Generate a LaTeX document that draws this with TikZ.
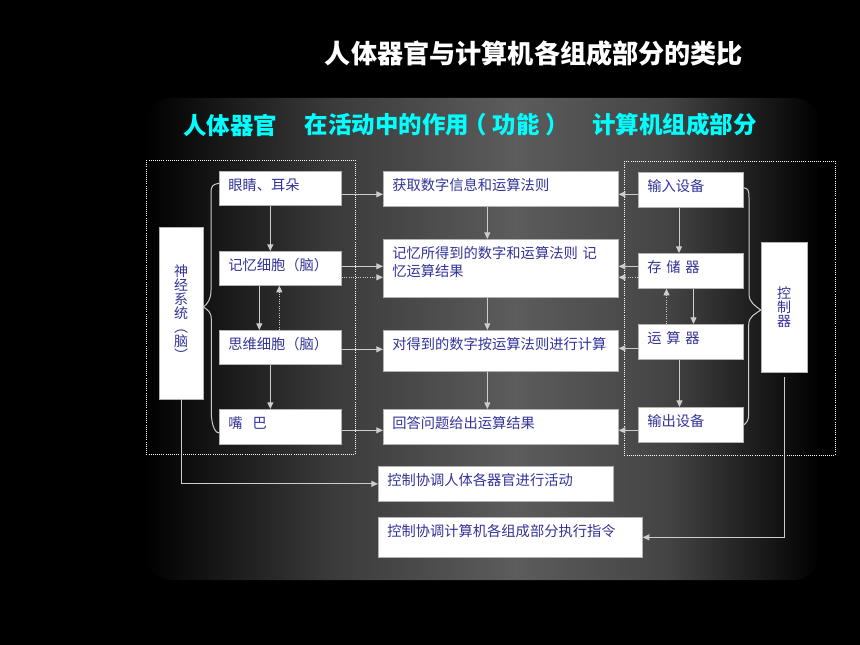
\documentclass[tikz,border=0pt]{standalone}
\usepackage{fontspec}
\setmainfont{Noto Sans CJK SC}
\usetikzlibrary{arrows.meta,calc}
\definecolor{boxblue}{RGB}{51,51,153}
\definecolor{headcyan}{RGB}{0,255,255}
\definecolor{bggray}{RGB}{92,92,92}
\definecolor{bgleft}{RGB}{58,58,58}
\definecolor{bgright}{RGB}{68,68,68}
\definecolor{linegray}{RGB}{205,205,205}

\begin{document}
\begin{tikzpicture}[x=0.75pt,y=-0.75pt,
        box/.style={fill=white,draw=gray!60,line width=0.5pt,anchor=north west,inner xsep=6.75pt,inner ysep=0pt,
            text height=14.25pt,text depth=12pt,align=left,text=boxblue,font=\fontsize{10.7pt}{13.5pt}\selectfont},
        lbox/.style={box,text width=78pt},
        mbox/.style={box,text width=162.75pt},
        rbox/.style={box,text width=65.5pt},
        vertbox/.style={fill=white,draw=gray!60,line width=0.5pt,align=center,text=boxblue,font=\fontsize{10.5pt}{10.5pt}\selectfont},
        head/.style={text=headcyan,font=\fontsize{17.6pt}{20pt}\selectfont\bfseries},
        conn/.style={draw=linegray,line width=0.75pt},
        arr/.style={conn,-{Triangle[length=5pt,width=4.5pt]}},
        darr/.style={arr,densely dotted},
        dotframe/.style={draw=white,line width=0.6pt,densely dotted}]
                \useasboundingbox (0,0) rectangle (860,645);
                \fill[black] (0,0) rectangle (860,645);
                \begin{scope}
                    \clip[rounded corners=20pt] (145,98) rectangle (820,580);
                    \shade[left color=black,right color=bggray,middle color=bgleft] (145,98) rectangle (515,580);
                    \shade[left color=bggray,right color=black,middle color=bgright] (515,98) rectangle (820,580);
                \end{scope}

                \node[text=white,font=\fontsize{19.6pt}{22pt}\selectfont\bfseries] (title) at (534,54) {人体器官与计算机各组成部分的类比};
                \node[head] (hdorgan) at (230,125) {人体器官};
                \node[head] (hdrole) at (434,125) {在活动中的作用\kern-0.25em（\kern0.25em功能\kern0.25em）\kern-0.25em};
                \node[head] (hdcomp) at (674.5,125) {计算机组成部分};

                \draw[dotframe] (146,160) rectangle (355,454);
                \draw[dotframe] (624,161) rectangle (835,455);

                \node[lbox,text depth=11.25pt] (eye) at (219,171) {眼睛、耳朵};
                \node[lbox,text depth=11.25pt] (mem) at (219,251) {记忆细胞（脑）};
                \node[lbox,text depth=11.25pt] (think) at (219,330) {思维细胞（脑）};
                \node[lbox] (mouth) at (219,409) {嘴\hspace{0.7em}巴};
                \node[vertbox,minimum width=33pt,minimum height=129pt] (nerve) at (181,313) {神\\经\\系\\统\\︵\\脑\\︶};

                \node[mbox] (get) at (383,171) {获取数字信息和运算法则};
                \node[mbox,text depth=29.25pt] (store) at (383,239) {记忆所得到的数字和运算法则\ 记\\忆运算结果};
                \node[mbox,text depth=16.5pt] (compute) at (383,330) {对得到的数字按运算法则进行计算};
                \node[mbox] (answer) at (383,409) {回答问题给出运算结果};
                \node[mbox] (ctrlbody) at (378,466) {控制协调人体各器官进行活动};
                \node[box,text width=184.5pt,text depth=15.75pt] (ctrlcomp) at (378,517) {控制协调计算机各组成部分执行指令};

                \node[rbox] (input) at (638,172) {输入设备};
                \node[rbox] (memory) at (638,253) {存 储 器};
                \node[rbox] (alu) at (638,324) {运 算 器};
                \node[rbox] (output) at (638,407) {输出设备};
                \node[vertbox,minimum width=34.5pt,minimum height=97.5pt] (ctrl) at (784,307) {控\\制\\器};

                \draw[arr] ($(eye.east)+(0,6)$) coordinate (e1) -- (e1 -| get.west);
                \draw[arr] ($(mem.east)+(0,-2)$) coordinate (m1) -- (m1 -| store.west);
                \draw[darr] ($(mem.east)+(0,9)$) coordinate (m2) -- (m2 -| store.west);
                \draw[arr] ($(think.east)+(0,2)$) coordinate (t1) -- (t1 -| compute.west);
                \draw[arr] ($(mouth.east)+(0,3.5)$) coordinate (u1) -- (u1 -| answer.west);

                \draw[arr] ($(input.west)+(0,4.5)$) coordinate (i1) -- (i1 -| get.east);
                \draw[arr] ($(memory.west)+(0,-4.5)$) coordinate (s1) -- (s1 -| store.east);
                \draw[darr] ($(memory.west)+(0,6.5)$) coordinate (s2) -- (s2 -| store.east);
                \draw[arr] ($(alu.west)+(0,6.5)$) coordinate (a1) -- (a1 -| compute.east);
                \draw[arr] ($(output.west)+(0,5.5)$) coordinate (o1) -- (o1 -| answer.east);

                \draw[arr] ($(eye.south)+(-10,0)$) coordinate (v1) -- (v1 |- mem.north);
                \draw[arr] ($(mem.south)+(-21,0)$) coordinate (v2) -- (v2 |- think.north);
                \draw[darr] ($(think.north)+(-1,0)$) coordinate (v3) -- (v3 |- mem.south);
                \draw[arr] ($(think.south)+(-10,0)$) coordinate (v4) -- (v4 |- mouth.north);
                \draw[arr] ($(get.south)+(-13.5,0)$) coordinate (v5) -- (v5 |- store.north);
                \draw[arr] ($(store.south)+(-13.5,0)$) coordinate (v6) -- (v6 |- compute.north);
                \draw[arr] ($(compute.south)+(-13.5,0)$) coordinate (v7) -- (v7 |- answer.north);
                \draw[arr] ($(input.south)+(-12,0)$) coordinate (v8) -- (v8 |- memory.north);
                \draw[arr] ($(memory.south)+(2.5,0)$) coordinate (v9) -- (v9 |- alu.north);
                \draw[darr] ($(alu.north)+(-24.5,0)$) coordinate (v10) -- (v10 |- memory.south);
                \draw[arr] ($(alu.south)+(-11.5,0)$) coordinate (v11) -- (v11 |- output.north);

                \draw[arr] (nerve.south) |- (ctrlbody.west);
                \draw[arr,shorten <=3.75pt] (ctrl.south) |- (ctrlcomp.east);

                \draw[conn] ($(eye.west)+(0,-5)$) .. controls +(-6,1) and +(0,-8) .. ++(-8,10) -- ++(0,97)
                    .. controls +(0,9) and +(4,-3) .. ($(nerve.east)+(0,-6)$)
                    .. controls +(4,3) and +(0,-9) .. ++(8,13) -- ++(0,93)
                    .. controls +(0,9) and +(-5,0) .. ($(mouth.west)+(0,6)$);
                \draw[conn] ($(input.east)+(0,-2)$) .. controls +(4,1) and +(0,-8) .. ++(5,10) -- ++(0,96)
                    .. controls +(0,9) and +(-5,-4) .. ($(ctrl.west)+(0,3)$)
                    .. controls +(-5,4) and +(0,-9) .. ++(-12,15) -- ++(0,88)
                    .. controls +(0,8) and +(3,-3) .. (output.east);
            \end{tikzpicture}
\end{document}
